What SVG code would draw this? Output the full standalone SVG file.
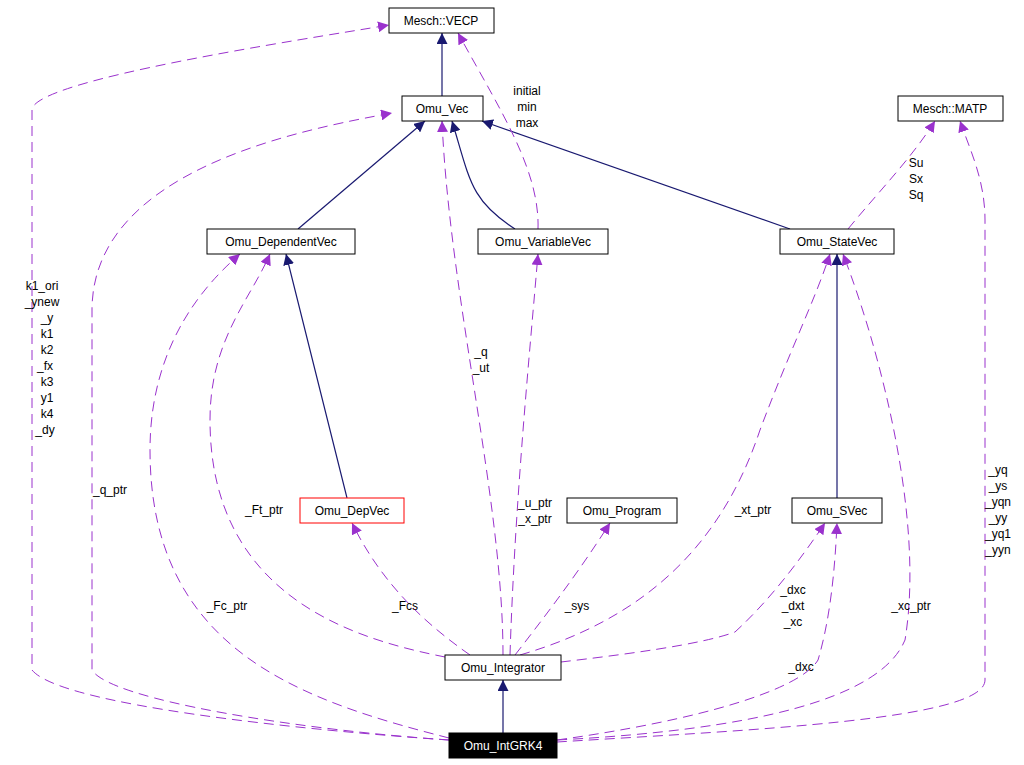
<svg xmlns="http://www.w3.org/2000/svg" width="1024" height="765" viewBox="0 0 1024 765">
<style>
text{font-family:"Liberation Sans",Arial,sans-serif;font-size:12px;fill:#000}
.n rect{fill:#fff;stroke:#000;stroke-width:1}
.n text{text-anchor:middle}
.i{fill:none;stroke:#191970;stroke-width:1.2}
.u{fill:none;stroke:#9a32cd;stroke-width:1;stroke-dasharray:10,6}
.l{text-anchor:middle}
</style>
<defs>
<marker id="ai" viewBox="0 0 10 10" refX="10" refY="5" markerWidth="11" markerHeight="11" markerUnits="userSpaceOnUse" orient="auto"><path d="M0,0L10,5L0,10z" fill="#191970"/></marker>
<marker id="au" viewBox="0 0 10 10" refX="10" refY="5" markerWidth="11" markerHeight="11" markerUnits="userSpaceOnUse" orient="auto"><path d="M0,0L10,5L0,10z" fill="#9a32cd"/></marker>
</defs>
<rect width="1024" height="765" fill="#fff"/>
<g id="edges">
<path class="i" d="M442,96V33" marker-end="url(#ai)"/>
<path class="i" d="M298,229L425,121" marker-end="url(#ai)"/>
<path class="i" d="M515,229C470,200 470,180 452,121" marker-end="url(#ai)"/>
<path class="i" d="M790,229L482,121" marker-end="url(#ai)"/>
<path class="i" d="M347,498L286,254" marker-end="url(#ai)"/>
<path class="i" d="M837,498V254" marker-end="url(#ai)"/>
<path class="i" d="M503,733V680" marker-end="url(#ai)"/>
<path class="u" d="M449,740C300,730 60,705 32,670V110C32,80 300,40 389,25" marker-end="url(#au)"/>
<path class="u" d="M449,740C300,730 110,700 92,670V310C92,170 300,130 392,113" marker-end="url(#au)"/>
<path class="u" d="M538,229C540,170 500,110 458,33" marker-end="url(#au)"/>
<path class="u" d="M848,229C880,190 910,160 935,121" marker-end="url(#au)"/>
<path class="u" d="M503,655C503,500 450,300 442,121" marker-end="url(#au)"/>
<path class="u" d="M445,657C360,640 210,600 210,420C210,340 250,300 270,254" marker-end="url(#au)"/>
<path class="u" d="M449,738C300,700 150,650 150,450C150,340 210,280 240,254" marker-end="url(#au)"/>
<path class="u" d="M510,655C515,500 530,350 538,254" marker-end="url(#au)"/>
<path class="u" d="M520,655C640,620 720,550 760,430C790,350 815,300 830,254" marker-end="url(#au)"/>
<path class="u" d="M470,655C420,620 380,580 352,523" marker-end="url(#au)"/>
<path class="u" d="M515,655C550,610 580,570 610,523" marker-end="url(#au)"/>
<path class="u" d="M561,662C620,655 700,645 735,632C770,600 800,560 825,523" marker-end="url(#au)"/>
<path class="u" d="M557,740C700,720 800,690 818,660C830,620 835,570 837,523" marker-end="url(#au)"/>
<path class="u" d="M557,740C750,730 880,700 905,640C925,520 880,350 843,254" marker-end="url(#au)"/>
<path class="u" d="M557,742C750,730 985,720 985,680V220C985,180 970,150 960,121" marker-end="url(#au)"/>
</g>
<g id="labels">
<text x="42" y="290" class="l">k1_ori</text><text x="42" y="306" class="l">_ynew</text><text x="47" y="322" class="l">_y</text><text x="47" y="338" class="l">k1</text><text x="47" y="354" class="l">k2</text><text x="45" y="370" class="l">_fx</text><text x="47" y="386" class="l">k3</text><text x="47" y="402" class="l">y1</text><text x="47" y="418" class="l">k4</text><text x="45" y="434" class="l">_dy</text>
<text x="110" y="494" class="l">_q_ptr</text>
<text x="527" y="95" class="l">initial</text><text x="527" y="111" class="l">min</text><text x="527" y="127" class="l">max</text>
<text x="916" y="167" class="l">Su</text><text x="916" y="183" class="l">Sx</text><text x="916" y="199" class="l">Sq</text>
<text x="481" y="356" class="l">_q</text><text x="481" y="372" class="l">_ut</text>
<text x="264" y="514" class="l">_Ft_ptr</text>
<text x="227" y="610" class="l">_Fc_ptr</text>
<text x="535" y="507" class="l">_u_ptr</text><text x="535" y="523" class="l">_x_ptr</text>
<text x="753" y="514" class="l">_xt_ptr</text>
<text x="405" y="610" class="l">_Fcs</text>
<text x="577" y="610" class="l">_sys</text>
<text x="793" y="594" class="l">_dxc</text><text x="793" y="610" class="l">_dxt</text><text x="793" y="626" class="l">_xc</text>
<text x="801" y="671" class="l">_dxc</text>
<text x="911" y="610" class="l">_xc_ptr</text>
<text x="998" y="474" class="l">_yq</text><text x="998" y="490" class="l">_ys</text><text x="998" y="506" class="l">_yqn</text><text x="998" y="522" class="l">_yy</text><text x="998" y="538" class="l">_yq1</text><text x="998" y="554" class="l">_yyn</text>
</g>
<g id="VECP" class="n"><rect x="389" y="8" width="105" height="25"/><text x="441" y="25">Mesch::VECP</text></g>
<g id="Vec" class="n"><rect x="402" y="96" width="81" height="25"/><text x="442" y="113">Omu_Vec</text></g>
<g id="MATP" class="n"><rect x="898" y="96" width="105" height="25"/><text x="950" y="113">Mesch::MATP</text></g>
<g id="DependentVec" class="n"><rect x="207" y="229" width="148" height="25"/><text x="281" y="246">Omu_DependentVec</text></g>
<g id="VariableVec" class="n"><rect x="478" y="229" width="130" height="25"/><text x="543" y="246">Omu_VariableVec</text></g>
<g id="StateVec" class="n"><rect x="780" y="229" width="114" height="25"/><text x="837" y="246">Omu_StateVec</text></g>
<g id="DepVec" class="n"><rect x="300" y="498" width="104" height="25" style="stroke:#f00"/><text x="352" y="515">Omu_DepVec</text></g>
<g id="Program" class="n"><rect x="567" y="498" width="110" height="25"/><text x="622" y="515">Omu_Program</text></g>
<g id="SVec" class="n"><rect x="792" y="498" width="90" height="25"/><text x="837" y="515">Omu_SVec</text></g>
<g id="Integrator" class="n"><rect x="445" y="655" width="116" height="25"/><text x="503" y="672">Omu_Integrator</text></g>
<g id="IntGRK4" class="n"><rect x="449" y="733" width="108" height="25" style="fill:#000"/><text x="503" y="750" style="fill:#fff">Omu_IntGRK4</text></g>
</svg>
